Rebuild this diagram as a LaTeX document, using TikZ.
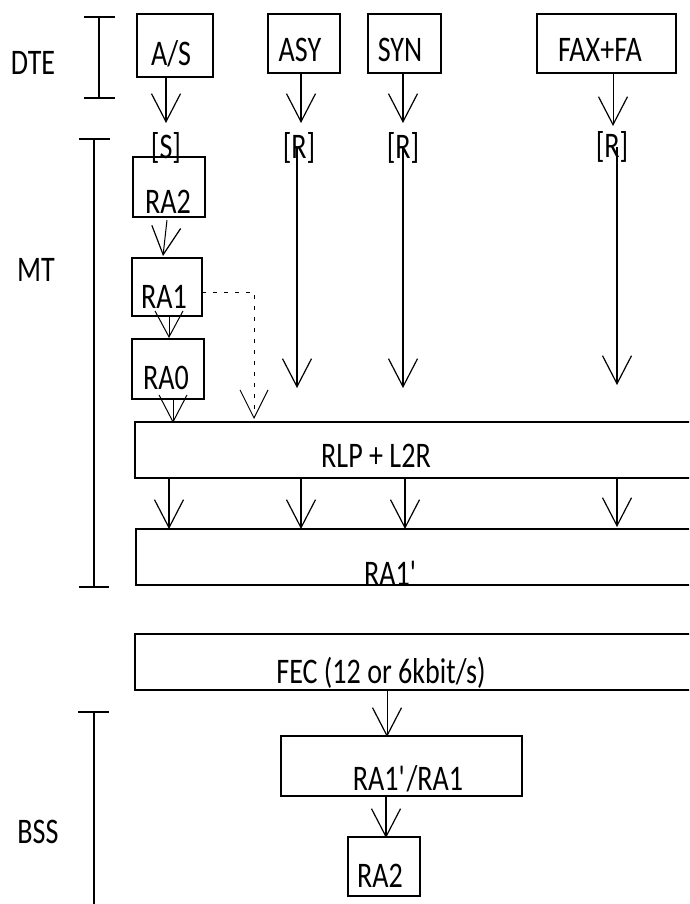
\documentclass[tikz,border=0pt]{standalone}
\usepackage{fontspec}
\setmainfont[FakeStretch=0.78]{Carlito}
\usetikzlibrary{arrows.meta}
\begin{document}
\begin{tikzpicture}[x=1pt,y=-1pt,
  box/.style={draw, line width=1.2pt, inner sep=0pt, outer sep=0pt, anchor=north west},
  lab/.style={inner sep=0pt, anchor=base, font=\fontsize{36}{42}\selectfont},
  thk/.style={line width=2pt, -{Straight Barb[length=28pt,width=29pt,line width'=1.2pt]}},
  thn/.style={line width=1pt, -{Straight Barb[length=28pt,width=29pt,line width'=1.2pt]}},
  brk/.style={line width=2pt}]
\useasboundingbox (0,0) rectangle (689,904);
\clip (0,0) rectangle (689,904);

% side labels and brackets
\node[lab] (dte) at (33,75) {DTE};
\node[lab] (mt) at (36,281) {MT};
\node[lab] (bss) at (38,843) {BSS};
\draw[brk] (84,17) -- (115,17) (99,17) -- (99,98) (84,98) -- (115,98);
\draw[brk] (79,139) -- (110,139) (79,587) -- (109,587);
\draw[line width=1.2pt] (94,139) -- (94,587);
\draw[brk] (78,712) -- (109,712) (94,712) -- (94,904);

% DTE boxes
\node[box,minimum width=76pt,minimum height=63pt] (as) at (137,14) {};
\node[lab] (tas) at (171,66) {A/S};
\node[box,minimum width=72pt,minimum height=59pt] (asy) at (268,14) {};
\node[lab] (tasy) at (300,62) {ASY};
\node[box,minimum width=73pt,minimum height=59pt] (syn) at (368,14) {};
\node[lab] (tsyn) at (400,62) {SYN};
\node[box,minimum width=139pt,minimum height=59pt] (fax) at (537,14) {};
\node[lab] (tfax) at (600,62) {FAX+FA};

% interface labels
\node[lab] (ls) at (166,159) {[S]};
\node[lab] (lr1) at (299,159) {[R]};
\node[lab] (lr2) at (403,159) {[R]};
\node[lab] (lr3) at (612,158) {[R]};

% top arrows
\coordinate (c1) at (166,123); \draw[thk] (as.south -| c1) -- (c1);
\coordinate (c2) at (301,123); \draw[thk] (asy.south -| c2) -- (c2);
\coordinate (c3) at (403,123); \draw[thk] (syn.south -| c3) -- (c3);
\coordinate (c4) at (613,126); \draw[thn] (fax.south -| c4) -- (c4);

% long arrows
\coordinate (d1) at (297,388); \draw[thk] (d1 |- lr1.center) -- (d1);
\coordinate (d2) at (403,388); \draw[thk] (d2 |- lr2.center) -- (d2);
\coordinate (d3) at (617,385); \draw[thk] (d3 |- lr3.center) -- (d3);

% MT chain
\node[box,minimum width=72pt,minimum height=60pt] (ra2) at (133,157) {};
\node[lab] (tra2) at (168,213) {RA2};
\node[box,minimum width=70pt,minimum height=58pt] (ra1) at (132,258) {};
\node[lab] (tra1) at (164,308) {RA1};
\node[box,minimum width=72pt,minimum height=60pt] (ra0) at (132,339) {};
\node[lab] (tra0) at (166,389) {RA0};

\coordinate (e1) at (167,220); \coordinate (e2) at (163,256);
\draw[thn] (e1) -- (e2);
\coordinate (f) at (169,338);
\draw[line width=0.6pt, -{Straight Barb[length=26pt,width=28pt,line width'=1pt]}] (ra1.south -| f) -- (f);
\coordinate (g) at (173,423);
\draw[line width=0.6pt, -{Straight Barb[length=27pt,width=28pt,line width'=1pt]}] (ra0.south -| g) -- (g);
\coordinate (h0) at (202,292); \coordinate (h) at (254,419);
\draw[line width=1pt, dash pattern=on 4pt off 7pt, -{Straight Barb[length=28pt,width=28pt,line width'=1pt]}] (h0) -| (h);

% wide boxes
\node[box,minimum width=565pt,minimum height=56pt] (rlp) at (135,422) {};
\node[lab] (trlp) at (376,467) {RLP + L2R};
\coordinate (k1) at (169,529); \draw[thk] (rlp.south -| k1) -- (k1);
\coordinate (k2) at (301,529); \draw[thk] (rlp.south -| k2) -- (k2);
\coordinate (k3) at (405,529); \draw[thk] (rlp.south -| k3) -- (k3);
\coordinate (k4) at (617,527); \draw[thk] (rlp.south -| k4) -- (k4);
\node[box,minimum width=564pt,minimum height=56pt] (rap) at (136,529) {};
\node[lab] (trap) at (391,585) {RA1\textquotesingle};

\node[box,minimum width=565pt,minimum height=56pt] (fec) at (135,634) {};
\node[lab] (tfec) at (381,683) {FEC (12 or 6kbit/s)};
\coordinate (m) at (387,737); \draw[thn] (fec.south -| m) -- (m);

% BSS
\node[box,minimum width=241pt,minimum height=60pt] (rar) at (281,736) {};
\node[lab] (trar) at (408,790) {RA1\textquotesingle/RA1};
\coordinate (n) at (386,838); \draw[thk] (rar.south -| n) -- (n);
\node[box,minimum width=72pt,minimum height=59pt] (ra2b) at (348,837) {};
\node[lab] (tra2b) at (380,887) {RA2};
\end{tikzpicture}
\end{document}
